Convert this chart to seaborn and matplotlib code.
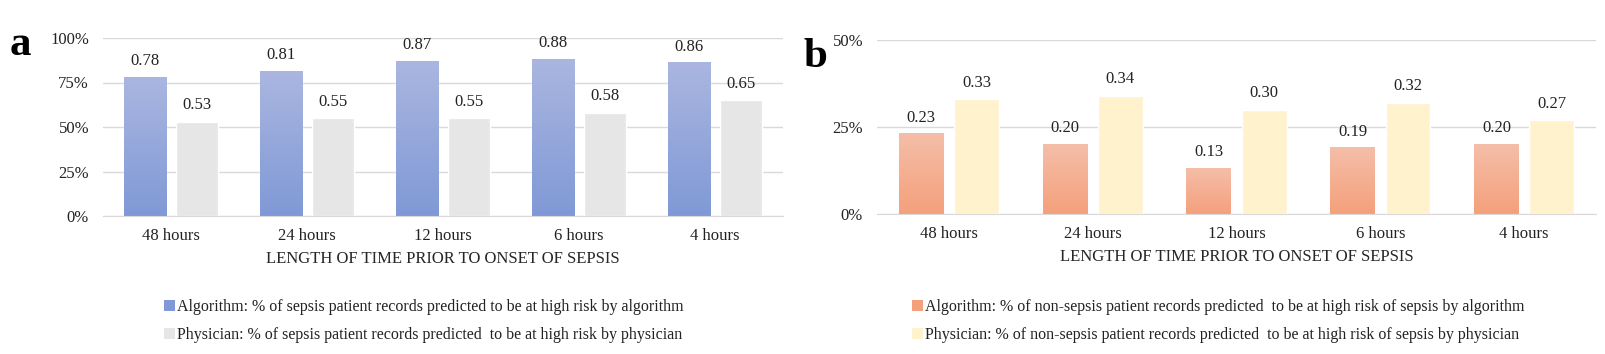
import matplotlib
matplotlib.use("Agg")
import matplotlib.pyplot as plt
import matplotlib.colors as mcolors
from matplotlib.patches import Patch
import numpy as np
import pandas as pd
import seaborn as sns

hours = ["48 hours", "24 hours", "12 hours", "6 hours", "4 hours"]
sepsis_algorithm = [0.78, 0.81, 0.87, 0.88, 0.86]
sepsis_physician = [0.53, 0.55, 0.55, 0.58, 0.65]
nonsepsis_algorithm = [0.23, 0.20, 0.13, 0.19, 0.20]
nonsepsis_physician = [0.33, 0.34, 0.30, 0.32, 0.27]

legend_a = ["Algorithm: % of sepsis patient records predicted to be at high risk by algorithm",
            "Physician: % of sepsis patient records predicted  to be at high risk by physician"]
legend_b = ["Algorithm: % of non-sepsis patient records predicted  to be at high risk of sepsis by algorithm",
            "Physician: % of non-sepsis patient records predicted  to be at high risk of sepsis by physician"]

sns.set_style("white")
plt.rcParams["font.family"] = ["Liberation Serif", "DejaVu Serif"]
plt.rcParams["text.color"] = "#222222"
plt.rcParams["xtick.color"] = "#222222"
plt.rcParams["ytick.color"] = "#222222"

fig = plt.figure(figsize=(16.06, 3.54), dpi=100)
W, H = 1606, 354


def px_axes(l, t, r, b):
    return fig.add_axes([l / W, 1 - b / H, (r - l) / W, (b - t) / H])


def panel(ax, alg, phy, top_ytick, grad, flat, legend_labels, leg_x):
    df = pd.DataFrame({
        "hours": hours * 2,
        "value": alg + phy,
        "who": ["Algorithm"] * len(hours) + ["Physician"] * len(hours),
    })
    sns.barplot(data=df, x="hours", y="value", hue="who", order=hours,
                palette={"Algorithm": grad[1], "Physician": flat},
                width=0.77, gap=0.19, ax=ax, legend=False, saturation=1)
    cmap = mcolors.LinearSegmentedColormap.from_list("g", [grad[1], grad[0]])
    for c_i, cont in enumerate(ax.containers):
        ax.bar_label(cont, fmt="%.2f", padding=6, fontsize=12)
        if c_i == 0:
            for p in cont.patches:
                x0, y0 = p.get_x(), p.get_y()
                w, h = p.get_width(), p.get_height()
                ax.imshow(np.linspace(0, 1, 100).reshape(-1, 1), cmap=cmap, origin="lower",
                          extent=[x0, x0 + w, y0, y0 + h], aspect="auto", zorder=p.get_zorder() + 0.1)
                p.set_facecolor("none")
    ax.set_xlim(-0.5, len(hours) - 0.5)
    ticks = np.linspace(0, top_ytick, 5 if top_ytick == 1.0 else 3)
    ax.set_ylim(0, top_ytick)
    ax.set_yticks(ticks)
    ax.set_yticklabels(["{:.0f}%".format(t * 100) for t in ticks], fontsize=12)
    ax.tick_params(axis="x", labelsize=12, length=0, pad=9)
    ax.tick_params(axis="y", length=0, pad=10)
    ax.yaxis.grid(True, color="#d9d9d9", linewidth=1)
    ax.set_axisbelow(True)
    for s in ["top", "right", "left"]:
        ax.spines[s].set_visible(False)
    ax.spines["bottom"].set_color("#d9d9d9")
    ax.set_xlabel("LENGTH OF TIME PRIOR TO ONSET OF SEPSIS", fontsize=12, labelpad=5)
    ax.set_ylabel("")
    handles = [Patch(facecolor=grad[1], edgecolor="none"), Patch(facecolor=flat, edgecolor="none")]
    fig.legend(handles, legend_labels, loc="upper left", bbox_to_anchor=(leg_x / W, 1 - 293 / H),
               frameon=False, fontsize=11.5, handlelength=0.65, handleheight=0.65, handletextpad=0.15,
               labelspacing=0.72, borderaxespad=0)


ax_a = px_axes(103, 38, 783, 216)
panel(ax_a, sepsis_algorithm, sepsis_physician, 1.0, ("#aab6e0", "#8099d6"), "#e6e6e6", legend_a, 158)
ax_b = px_axes(877, 40, 1596, 214)
panel(ax_b, nonsepsis_algorithm, nonsepsis_physician, 0.5, ("#f5bea8", "#f4a07c"), "#fff2cc", legend_b, 906)

fig.text(10 / W, 1 - 55 / H, "a", fontsize=31, fontweight="bold", color="black", va="baseline")
fig.text(804 / W, 1 - 67 / H, "b", fontsize=31, fontweight="bold", color="black", va="baseline")

fig.savefig("out.png", dpi=100)
